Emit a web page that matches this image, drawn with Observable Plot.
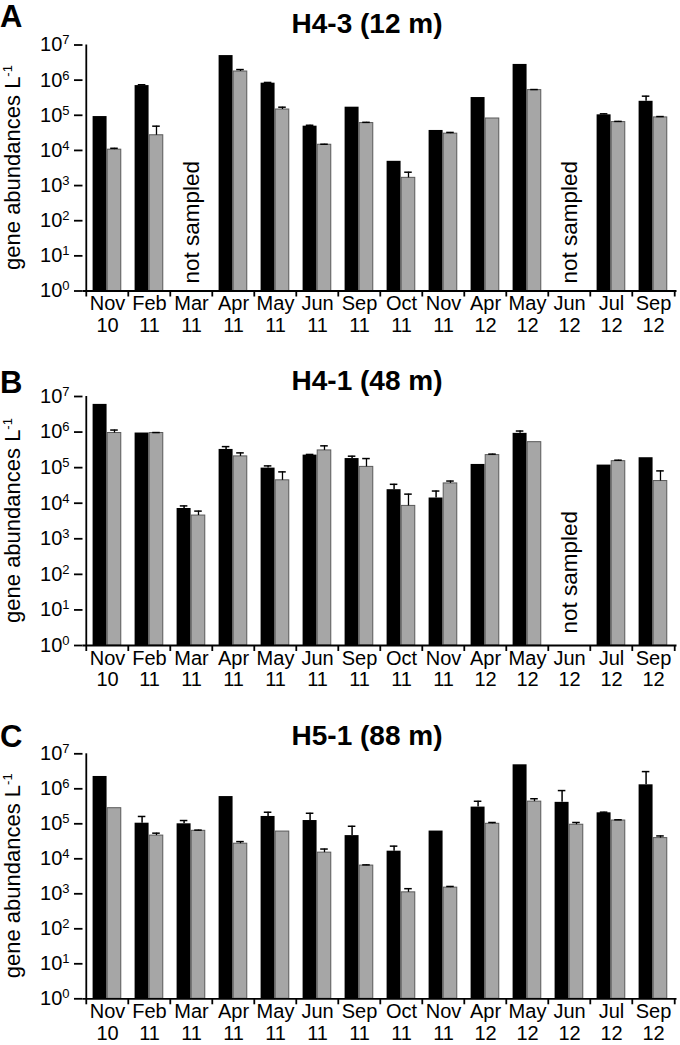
<!DOCTYPE html>
<html><head><meta charset="utf-8">
<script src="https://cdn.jsdelivr.net/npm/d3@7"></script>
<script src="https://cdn.jsdelivr.net/npm/@observablehq/plot@0.6"></script>
<style>
body{margin:0;background:#fff}
#chart svg{display:block}
</style>
</head><body><div id="chart"></div><script>
// ---- data ----
const samples = ["Nov\n10","Feb\n11","Mar\n11","Apr\n11","May\n11","Jun\n11","Sep\n11","Oct\n11","Nov\n11","Apr\n12","May\n12","Jun\n12","Jul\n12","Sep\n12"];
const yTicks = [1, 10, 100, 1e3, 1e4, 1e5, 1e6, 1e7];
const panelLetters = ["A", "B", "C"];
const panelTitles = ["H4-3 (12 m)", "H4-1 (48 m)", "H5-1 (88 m)"];
const yLabel = "gene abundances L";
const yLabelSup = "-1";
const missingText = "not sampled";

// H4-3 (12 m)
const aBlack   = [9.2e4, 7.0e5, null, 5.0e6, 8.2e5, 4.9e4, 1.7e5, 4.9e3, 3.7e4, 3.2e5, 2.8e6, null, 1.03e5, 2.5e5];
const aBlackUp = [null, 7.4e5, null, null, 8.6e5, 5.2e4, null, null, null, null, null, null, 1.1e5, 3.5e5];
const aGrey    = [1.05e4, 2.7e4, null, 1.76e6, 1.46e5, 1.45e4, 6.0e4, 1.66e3, 3.0e4, 8.1e4, 5.2e5, null, 6.4e4, 8.7e4];
const aGreyUp  = [1.15e4, 4.9e4, null, 2.0e6, 1.7e5, 1.5e4, 6.3e4, 2.4e3, 3.25e4, null, 5.4e5, null, 6.7e4, 9.2e4];
// H4-1 (48 m)
const bBlack   = [6.0e6, 9.4e5, 7.1e3, 3.25e5, 9.7e4, 2.25e5, 1.8e5, 2.4e4, 1.4e4, 1.23e5, 9.2e5, null, 1.18e5, 1.9e5];
const bBlackUp = [null, null, 8.4e3, 3.9e5, 1.12e5, 2.35e5, 2.1e5, 3.4e4, 2.2e4, null, 1.07e6, null, null, null];
const bGrey    = [9.4e5, 9.4e5, 4.5e3, 2.07e5, 4.4e4, 3.05e5, 1.05e5, 8.4e3, 3.6e4, 2.25e5, 5.2e5, null, 1.52e5, 4.2e4];
const bGreyUp  = [1.14e6, 9.7e5, 6.0e3, 2.6e5, 7.6e4, 4.1e5, 1.8e5, 1.8e4, 4.2e4, 2.4e5, null, null, 1.62e5, 8.1e4];
// H5-1 (88 m)
const cBlack   = [2.25e6, 1.04e5, 1.0e5, 6.0e5, 1.62e5, 1.24e5, 4.6e4, 1.65e4, 6.2e4, 3.0e5, 4.85e6, 4.1e5, 2.06e5, 1.3e6];
const cBlackUp = [null, 1.62e5, 1.24e5, null, 2.14e5, 2.0e5, 8.5e4, 2.3e4, null, 4.4e5, null, 8.9e5, 2.15e5, 3.1e6];
const cGrey    = [2.79e5, 4.6e4, 6.3e4, 2.7e4, 6.0e4, 1.5e4, 6.4e3, 1.1e3, 1.5e3, 1.0e5, 4.3e5, 9.4e4, 1.24e5, 3.9e4];
const cGreyUp  = [null, 5.4e4, 6.6e4, 3.1e4, null, 1.9e4, 6.7e3, 1.4e3, 1.62e3, 1.09e5, 5.2e5, 1.09e5, 1.3e5, 4.5e4];

// ---- layout ----
const W = 680, ML = 82.5, MR = 3.5;
const BW = (W - ML - MR) / samples.length;
const FONT = "'Liberation Sans', Arial, Helvetica, sans-serif";
const layouts = [
  {mt: 44.5, ph: 246, mb: 54.5, titleY: 33, letterY: 26.7, nsDy: -7.5},
  {mt: 51,   ph: 249, mb: 55,   titleY: 45, letterY: 48.3, nsDy: -12},
  {mt: 53.3, ph: 245, mb: 46.7, titleY: 45, letterY: 47,   nsDy: -8}
];
const series = [
  [aBlack, aBlackUp, aGrey, aGreyUp],
  [bBlack, bBlackUp, bGrey, bGreyUp],
  [cBlack, cBlackUp, cGrey, cGreyUp]
];
const NS = "http://www.w3.org/2000/svg";

function makePanel(k) {
  const [black, blackUp, grey, greyUp] = series[k];
  const L = layouts[k];
  const H = L.mt + L.ph + L.mb;
  const rows = samples.map((s, i) => ({s, b: black[i], bu: blackUp[i], g: grey[i], gu: greyUp[i]}));
  const sw = 1.8;
  const svg = Plot.plot({
    width: W, height: H, marginLeft: ML, marginRight: MR, marginTop: L.mt, marginBottom: L.mb,
    style: {fontFamily: FONT, fontSize: "19px", color: "#000", background: "#fff", overflow: "visible"},
    x: {domain: samples, padding: 0},
    y: {type: "log", domain: [1, 1e7]},
    marks: [
      Plot.barY(rows.filter(d => d.b != null), {x: "s", y1: () => 1, y2: "b", fill: "#000",
        insetLeft: 6.6, insetRight: BW - 6.6 - 14.4}),
      Plot.barY(rows.filter(d => d.g != null), {x: "s", y1: () => 1, y2: "g", fill: "#a6a6a6",
        stroke: "#5a5a5a", strokeWidth: 1, insetLeft: 21.2, insetRight: BW - 21.2 - 14}),
      Plot.ruleX(rows.filter(d => d.bu != null), {x: "s", y1: "b", y2: "bu", dx: 13.8 - BW / 2, stroke: "#000", strokeWidth: 1.5}),
      Plot.tickY(rows.filter(d => d.bu != null), {x: "s", y: "bu", insetLeft: 9.8, insetRight: BW - 17.8, stroke: "#000", strokeWidth: 1.5}),
      Plot.ruleX(rows.filter(d => d.gu != null), {x: "s", y1: "g", y2: "gu", dx: 28.2 - BW / 2, stroke: "#000", strokeWidth: 1.3}),
      Plot.tickY(rows.filter(d => d.gu != null), {x: "s", y: "gu", insetLeft: 24.2, insetRight: BW - 32.2, stroke: "#000", strokeWidth: 1.5}),
      Plot.text(rows.filter(d => d.b == null), {x: "s", y: () => 1, text: () => missingText, rotate: -90,
        textAnchor: "start", lineAnchor: "middle", dy: L.nsDy, fontSize: 22.5}),
      // axis lines
      Plot.ruleY([1], {stroke: "#000", strokeWidth: sw}),
      Plot.ruleX([samples[0]], {x: d => d, y1: () => 1, y2: () => 1e7, dx: -BW / 2, stroke: "#000", strokeWidth: sw}),
      // boundary ticks on x axis
      Plot.ruleX(samples, {x: d => d, dx: -BW / 2, insetTop: L.ph, insetBottom: -6, stroke: "#000", strokeWidth: sw}),
      Plot.ruleX([samples[samples.length - 1]], {x: d => d, dx: BW / 2, insetTop: L.ph, insetBottom: -6, stroke: "#000", strokeWidth: sw}),
      Plot.axisX({tickSize: 0, tickPadding: 4, fontSize: 20, lineHeight: 1.08, label: null}),
      Plot.axisY({ticks: yTicks, tickSize: 8.5, tickPadding: 5, fontSize: 20, label: null,
        strokeWidth: sw, tickFormat: d => "10^" + Math.round(Math.log10(d))})
    ]
  });
  // superscript exponents in tick labels
  svg.querySelectorAll("text").forEach(t => {
    const m = t.textContent.match(/^10\^(\d+)$/);
    if (m) {
      t.textContent = "10";
      const ts = document.createElementNS(NS, "tspan");
      ts.setAttribute("dy", "-7");
      ts.setAttribute("font-size", "13");
      ts.textContent = m[1];
      t.appendChild(ts);
    }
  });
  const s = d3.select(svg);
  const cy = L.mt + L.ph / 2;
  const yl = s.append("text")
    .attr("transform", `translate(20,${cy}) rotate(-90)`)
    .attr("text-anchor", "middle").attr("font-size", 22).attr("font-family", FONT).attr("fill", "#000");
  yl.append("tspan").text(yLabel);
  yl.append("tspan").attr("dy", -8).attr("font-size", 13).text(yLabelSup);
  s.append("text").attr("x", 367).attr("y", L.titleY).attr("text-anchor", "middle")
    .attr("font-size", 28).attr("font-weight", "bold").attr("font-family", FONT).attr("fill", "#000")
    .text(panelTitles[k]);
  s.append("text").attr("x", 0).attr("y", L.letterY).attr("text-anchor", "start")
    .attr("font-size", 31).attr("font-weight", "bold").attr("font-family", FONT).attr("fill", "#000")
    .text(panelLetters[k]);
  return svg;
}

const chart = document.getElementById("chart");
for (let k = 0; k < 3; k++) chart.appendChild(makePanel(k));
</script></body></html>
